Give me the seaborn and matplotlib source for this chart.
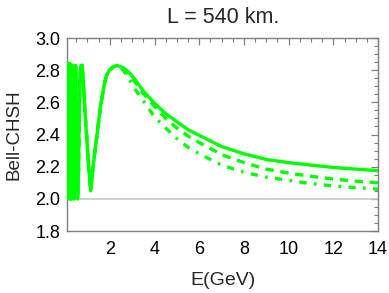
import matplotlib
matplotlib.use("Agg")
import matplotlib.pyplot as plt
import seaborn as sns
import numpy as np
import pandas as pd
from matplotlib.ticker import MultipleLocator

# ---------------- data ----------------
E_low = [0.100, 0.102, 0.105, 0.107, 0.110, 0.112, 0.115, 0.118, 0.121, 0.124,
         0.128, 0.131, 0.135, 0.139, 0.143, 0.148, 0.152, 0.157, 0.163, 0.169,
         0.175, 0.182, 0.189, 0.197, 0.206, 0.215, 0.225, 0.236, 0.248, 0.262,
         0.278, 0.295, 0.315, 0.337, 0.363, 0.393, 0.430, 0.472, 0.515, 0.560,
         0.600, 0.630, 0.670, 0.720, 0.770, 0.830, 0.900, 0.970, 1.050, 1.150,
         1.250, 1.430, 1.580, 1.750, 1.850, 1.980, 2.150]
B_low = [2.45, 2.84, 2.43, 2.02, 2.42, 2.83, 2.42, 2.01, 2.42, 2.84,
         2.42, 2.02, 2.42, 2.83, 2.43, 2.01, 2.42, 2.84, 2.42, 2.00,
         2.42, 2.83, 2.42, 2.01, 2.42, 2.84, 2.42, 2.00, 2.42, 2.83,
         2.42, 2.00, 2.42, 2.83, 2.45, 2.00, 2.45, 2.83, 2.45, 2.00,
         2.17, 2.48, 2.78, 2.83, 2.83, 2.69, 2.52, 2.38, 2.21, 2.05,
         2.20, 2.40, 2.57, 2.71, 2.765, 2.80, 2.82]

E_high = [2.32, 2.6, 2.84, 3.14, 3.5, 4.0, 4.5, 5.0, 5.5, 6.0, 7.0, 8.0, 9.0,
          10.0, 11.0, 12.0, 13.0, 14.0]
B_solid = [2.83, 2.815, 2.79, 2.74, 2.67, 2.595, 2.53, 2.48, 2.43, 2.395,
           2.325, 2.28, 2.245, 2.225, 2.21, 2.195, 2.185, 2.175]
B_dashed = [2.83, 2.805, 2.775, 2.725, 2.655, 2.575, 2.50, 2.44, 2.39, 2.35,
            2.275, 2.225, 2.185, 2.16, 2.14, 2.123, 2.11, 2.10]
B_dashdot = [2.83, 2.80, 2.75, 2.68, 2.61, 2.51, 2.44, 2.375, 2.32, 2.28,
             2.21, 2.165, 2.135, 2.115, 2.095, 2.08, 2.07, 2.06]

x_ticks = [2, 4, 6, 8, 10, 12, 14]
y_ticks = [1.8, 2.0, 2.2, 2.4, 2.6, 2.8, 3.0]
title = "L = 540 km."
xlabel = "E(GeV)"
ylabel = "Bell-CHSH"
classical_bound = 2.0

# ---------------- figure ----------------
sns.set_style("white")
plt.rcParams["font.family"] = ["Liberation Sans", "DejaVu Sans"]

fig = plt.figure(figsize=(3.89, 2.93), dpi=100)
ax = fig.add_axes([0.173, 0.2116, 0.799, 0.6586])

green = "#00ff00"
lw = 2.4
styles = [
    (B_solid, "-"),
    (B_dashed, (0, (2.5, 2.0))),
    (B_dashdot, (0, (2.2, 2.2, 0.8, 2.2))),
]
for B_hi, ls in styles:
    df = pd.DataFrame({"E": E_low + E_high, "B": B_low + B_hi})
    sns.lineplot(data=df, x="E", y="B", ax=ax, color=green, lw=lw,
                 linestyle=ls, estimator=None, sort=False, zorder=3)

ax.axhline(classical_bound, color="#c8c8c8", lw=1.2, zorder=2)

ax.set_xlim(0.1, 14)
ax.set_ylim(1.8, 3.0)
ax.set_xticks(x_ticks)
ax.set_yticks(y_ticks)
ax.set_yticklabels([f"{v:.1f}" for v in y_ticks])
ax.xaxis.set_minor_locator(MultipleLocator(0.5))
ax.yaxis.set_minor_locator(MultipleLocator(0.05))

frame_col = "#7f7f7f"
for sp in ax.spines.values():
    sp.set_color(frame_col)
    sp.set_linewidth(1.0)
ax.tick_params(which="both", direction="in", top=True, right=True,
               color=frame_col, labelsize=13, labelcolor="black")
ax.tick_params(which="major", length=5, width=0.9)
ax.tick_params(which="minor", length=2.8, width=0.8)
ax.tick_params(axis="x", which="major", pad=7.5)
ax.tick_params(axis="y", which="major", pad=5)

ax.set_xlabel(xlabel, fontsize=14, labelpad=10)
ax.set_ylabel(ylabel, fontsize=13.5, labelpad=9)
ax.set_title(title, fontsize=15.5, pad=11)

fig.savefig("out.png", dpi=100)
